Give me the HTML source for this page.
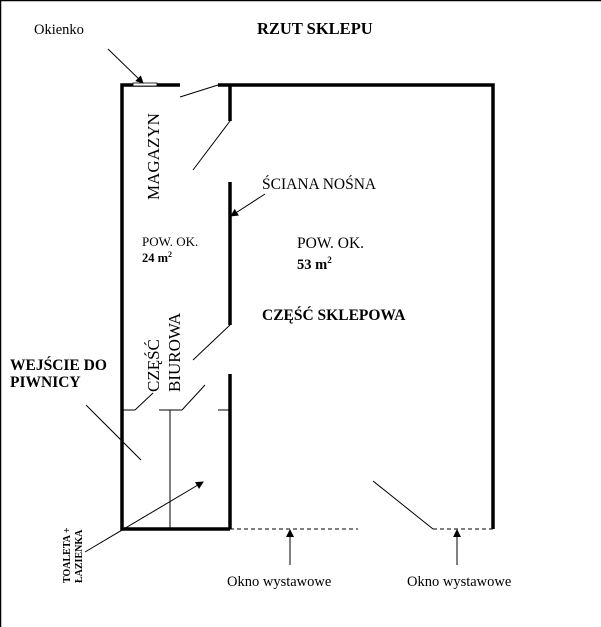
<!DOCTYPE html>
<html><head><meta charset="utf-8"><style>
html,body{margin:0;padding:0;background:#fff;}
svg{display:block;}
text{font-family:"Liberation Serif",serif;fill:#000;}
.b{font-weight:bold;}
</style></head><body>
<svg width="601" height="627" viewBox="0 0 601 627" xmlns="http://www.w3.org/2000/svg">
<defs>
<marker id="ah" markerWidth="8" markerHeight="8" refX="7" refY="4" orient="auto" markerUnits="userSpaceOnUse">
<path d="M0,0 L8,4 L0,8 z" fill="#000"/></marker>
</defs>
<line x1="0" y1="0.5" x2="601" y2="0.5" stroke="#000" stroke-width="1.5"/>
<line x1="0.5" y1="0" x2="0.5" y2="627" stroke="#000" stroke-width="1.5"/>
<g stroke="#000" stroke-width="3.5" fill="none">
<polyline points="180,85 122,85 122,529 230,529"/>
<polyline points="218,85 493,85 493,529"/>
<line x1="230" y1="85" x2="230" y2="121"/>
<line x1="230" y1="182" x2="230" y2="325"/>
<line x1="230" y1="374" x2="230" y2="529"/>
</g>
<rect x="133" y="83" width="24" height="3" fill="#fff" stroke="#000" stroke-width="0.8"/>
<g stroke="#000" stroke-width="1" fill="none">
<line x1="180" y1="97" x2="218" y2="85"/>
<line x1="230" y1="121" x2="193" y2="170"/>
<line x1="230" y1="325" x2="193" y2="360"/>
<line x1="122" y1="410" x2="135" y2="410"/>
<line x1="135" y1="410" x2="153" y2="393"/>
<line x1="159" y1="410" x2="182" y2="410"/>
<line x1="182" y1="410" x2="205" y2="385"/>
<line x1="218" y1="410" x2="230" y2="410"/>
<line x1="170" y1="410" x2="170" y2="529"/>
<line x1="373" y1="481" x2="433" y2="529"/>
<line x1="86" y1="405" x2="141" y2="460"/>
<line x1="230" y1="529" x2="358" y2="529" stroke-dasharray="4,3"/>
<line x1="433" y1="529" x2="493" y2="529" stroke-dasharray="4,3"/>
<line x1="108" y1="49" x2="143" y2="83" marker-end="url(#ah)"/>
<line x1="265" y1="194" x2="231" y2="216" marker-end="url(#ah)"/>
<line x1="85" y1="552" x2="203" y2="482" marker-end="url(#ah)"/>
<line x1="290" y1="565" x2="290" y2="530" marker-end="url(#ah)"/>
<line x1="457" y1="565" x2="457" y2="530" marker-end="url(#ah)"/>
</g>
<text x="34" y="34" font-size="14.5">Okienko</text>
<text x="257" y="34" font-size="16.5" class="b">RZUT SKLEPU</text>
<text x="262" y="189" font-size="15.5">ŚCIANA NOŚNA</text>
<text x="142" y="246" font-size="13">POW. OK.</text>
<text x="142" y="262" font-size="12.5" class="b">24 m<tspan font-size="8" dy="-5">2</tspan></text>
<text x="297" y="248" font-size="15.5">POW. OK.</text>
<text x="297" y="269" font-size="14.5" class="b">53 m<tspan font-size="9" dy="-6">2</tspan></text>
<text x="262" y="320" font-size="15.5" class="b">CZĘŚĆ SKLEPOWA</text>
<text x="10" y="370" font-size="15.5" class="b">WEJŚCIE DO</text>
<text x="10" y="387" font-size="15.5" class="b">PIWNICY</text>
<text transform="translate(159,200) rotate(-90)" font-size="17">MAGAZYN</text>
<text transform="translate(159,392) rotate(-90)" font-size="17">CZĘŚĆ</text>
<text transform="translate(180,392) rotate(-90)" font-size="17">BIUROWA</text>
<text transform="translate(70,583) rotate(-90)" font-size="10" class="b">TOALETA +</text>
<text transform="translate(82,583) rotate(-90)" font-size="10" class="b">ŁAZIENKA</text>
<text x="227" y="586" font-size="14.5">Okno wystawowe</text>
<text x="407" y="586" font-size="14.5">Okno wystawowe</text>
</svg>
</body></html>
